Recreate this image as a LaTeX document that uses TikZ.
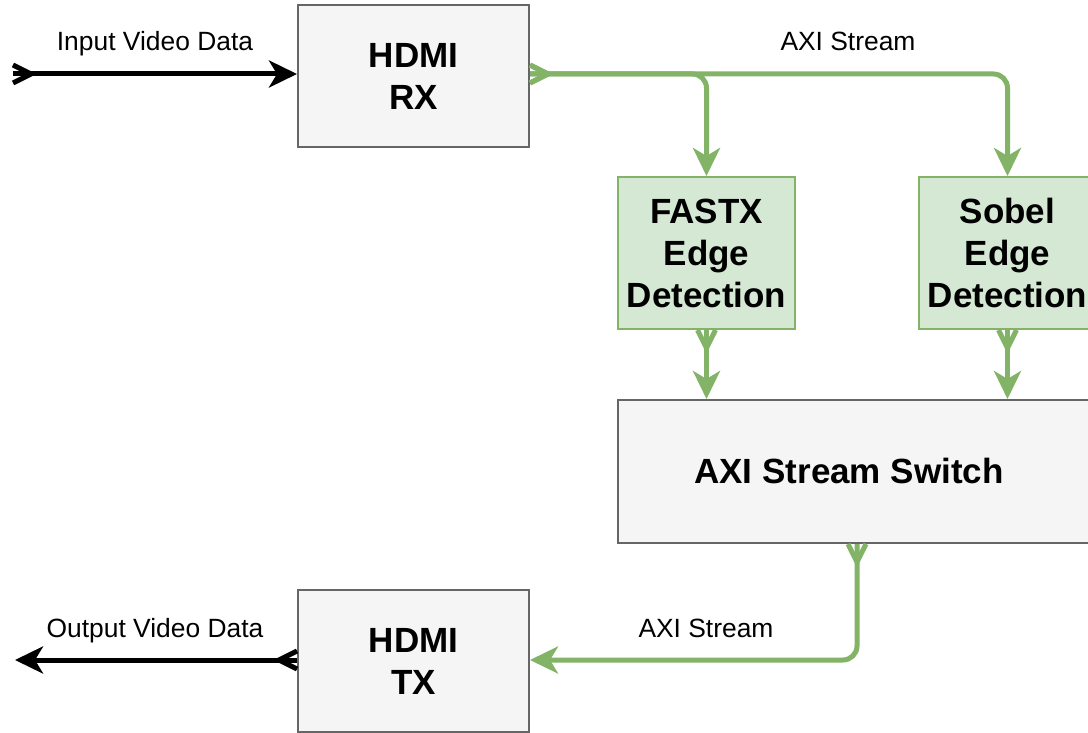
\documentclass[tikz,border=0pt]{standalone}
\usepackage{fontspec}
\setmainfont{Liberation Sans}
\usetikzlibrary{arrows.meta}
\definecolor{boxfill}{HTML}{F5F5F5}
\definecolor{boxline}{HTML}{666666}
\definecolor{ipfill}{HTML}{D5E8D4}
\definecolor{ipline}{HTML}{82B366}

% crow's-foot tail: the line runs right through to the end point
\pgfdeclarearrow{
  name = Fork,
  parameters = {\the\pgfarrowlength,\the\pgfarrowwidth},
  setup code = {
    \pgfarrowssettipend{0pt}
    \pgfarrowssetlineend{0pt}
    \pgfarrowssetbackend{-\pgfarrowlength}
    \pgfarrowssavethe\pgfarrowlength
    \pgfarrowssavethe\pgfarrowwidth
  },
  drawing code = {
    \pgfsetmiterjoin
    \pgfpathmoveto{\pgfqpoint{0pt}{.5\pgfarrowwidth}}
    \pgfpathlineto{\pgfqpoint{-\pgfarrowlength}{0pt}}
    \pgfpathlineto{\pgfqpoint{0pt}{-.5\pgfarrowwidth}}
    \pgfusepathqstroke
  },
  defaults = {length=18pt, width=18pt}
}

\tikzset{
  block/.style={draw=boxline, fill=boxfill, line width=2pt, rectangle, inner sep=0pt,
    align=center, font=\bfseries\fontsize{35}{42}\selectfont},
  ipblock/.style={block, draw=ipline, fill=ipfill},
  lbl/.style={font=\fontsize{26.4}{30}\selectfont, inner sep=0pt, anchor=base},
  fork/.tip={Fork[length=18pt, width=18pt]},
  head/.tip={Stealth[length=28pt, width=27pt, inset=8pt]},
  videoline/.style={line width=5pt, black},
  axiline/.style={line width=5pt, ipline, rounded corners=14pt},
}
\begin{document}
\begin{tikzpicture}[x=1pt, y=-1pt]
  \clip (0,0) rectangle (1088,733);
  \fill[white] (0,0) rectangle (1088,733);

  % processing blocks
  \node[block, minimum width=231pt, minimum height=142pt] (rx) at (413.5,76) {HDMI\\RX};
  \node[block, minimum width=231pt, minimum height=142pt] (tx) at (413.5,661) {HDMI\\TX};
  \node[ipblock, minimum width=177pt, minimum height=152pt] (fastx) at (706.5,253) {FASTX\\Edge\\Detection};
  \node[ipblock, minimum width=177pt, minimum height=152pt] (sobel) at (1007.5,253) {Sobel\\Edge\\Detection};
  \node[block, minimum width=478pt, minimum height=143pt] (sw) at (857,471.5) {};
  \node[font=\bfseries\fontsize{35}{42}\selectfont, inner sep=0pt] (swtext) at (849,471) {AXI Stream Switch};

  % free ends of the video links
  \coordinate (vin) at (13,74);
  \coordinate (vout) at (15,660);

  % video in / out
  \draw[videoline, {fork}-{head}] (vin) -- (vin -| rx.west);
  \draw[videoline, {fork}-{head}] (vout -| tx.west) -- (vout);

  % AXI stream links
  \draw[axiline, {fork}-{head}] (rx.east |- vin) -| (fastx.north);
  \draw[axiline, {fork}-{head}] (rx.east |- vin) -| (sobel.north);
  \draw[axiline, {fork}-{head}] (fastx.south) -- (fastx.south |- sw.north);
  \draw[axiline, {fork}-{head}] (sobel.south) -- (sobel.south |- sw.north);
  \draw[axiline, {fork}-{head}] (sw.south) |- (vout -| tx.east);

  % labels
  \node[lbl] (lin) at (155,51) {Input Video Data};
  \node[lbl] (laxi1) at (848,51) {AXI Stream};
  \node[lbl] (laxi2) at (706,637) {AXI Stream};
  \node[lbl] (lout) at (155,637) {Output Video Data};
\end{tikzpicture}
\end{document}
